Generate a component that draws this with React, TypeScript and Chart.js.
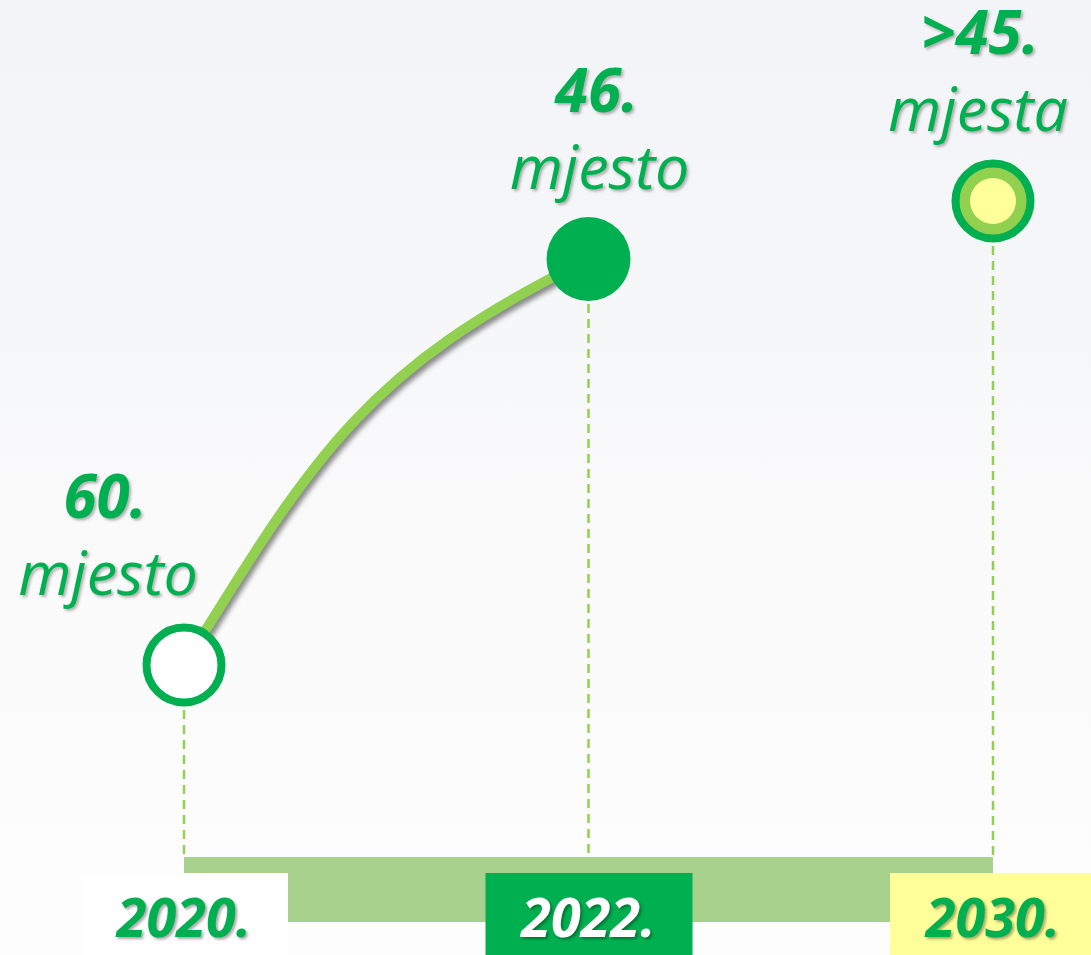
import React, { useEffect, useRef } from 'react';
import { Chart, registerables } from 'chart.js';

Chart.register(...registerables);

// ---- data ----
const years: string[] = ['2020.', '2022.', '2030.'];
const ranks: number[] = [60, 46, 44];
const rankLabels: string[] = ['60.', '46.', '>45.'];
const unitLabels: string[] = ['mjesto', 'mjesto', 'mjesta'];
const targetInner: (number | null)[] = [null, null, 44];

// ---- styles ----
const GREEN = '#00B050';
const LIGHT = '#92D050';
const BAR = '#A9D18E';
const YELLOW = '#FFFF99';
const boxColors = ['#FFFFFF', GREEN, YELLOW];
const yearTextColors = [GREEN, '#FFFFFF', GREEN];
// label offsets relative to each point [dxNumber, dxWord]
const labelDx = [
  [-79, -76],
  [8, 11],
  [-13, -15],
];
const NUM_DY = -147;
const WORD_DY = -70;
const FONT = '"Open Sans", "Noto Sans", sans-serif';

const infographic = {
  id: 'infographic',
  beforeDatasetsDraw(chart: any) {
    const ctx = chart.ctx as CanvasRenderingContext2D;
    const area = chart.chartArea;
    const xs = chart.scales.x;
    const meta = chart.getDatasetMeta(0);
    const pts = meta.data;
    ctx.save();
    // base bar
    const x0 = xs.getPixelForValue(0);
    const x1 = xs.getPixelForValue(years.length - 1);
    ctx.fillStyle = BAR;
    ctx.fillRect(x0, area.bottom, x1 - x0, 65);
    // dashed drop lines
    ctx.strokeStyle = LIGHT;
    ctx.lineWidth = 2.5;
    ctx.setLineDash([9, 6]);
    pts.forEach((p: any) => {
      ctx.beginPath();
      ctx.moveTo(p.x, p.y);
      ctx.lineTo(p.x, area.bottom);
      ctx.stroke();
    });
    ctx.setLineDash([]);
    // curve between first two points
    const a = pts[0];
    const b = pts[1];
    const dx = b.x - a.x;
    const dy = b.y - a.y;
    ctx.shadowColor = 'rgba(0,0,0,0.45)';
    ctx.shadowBlur = 5;
    ctx.shadowOffsetX = 3;
    ctx.shadowOffsetY = 4;
    ctx.strokeStyle = LIGHT;
    ctx.lineWidth = 10;
    ctx.lineCap = 'round';
    ctx.beginPath();
    ctx.moveTo(a.x, a.y);
    ctx.bezierCurveTo(
      a.x + 0.325 * dx, a.y + 0.523 * dy,
      a.x + 0.449 * dx, a.y + 0.729 * dy,
      b.x, b.y
    );
    ctx.stroke();
    ctx.restore();
  },
  afterDraw(chart: any) {
    const ctx = chart.ctx as CanvasRenderingContext2D;
    const area = chart.chartArea;
    const xs = chart.scales.x;
    const pts = chart.getDatasetMeta(0).data;
    ctx.save();
    // year boxes
    years.forEach((label, i) => {
      const cx = xs.getPixelForValue(i);
      ctx.shadowColor = 'transparent';
      ctx.fillStyle = boxColors[i];
      ctx.fillRect(cx - 103, area.bottom + 16, 207, 90);
      ctx.font = `italic bold 54px ${FONT}`;
      ctx.textAlign = 'center';
      ctx.textBaseline = 'alphabetic';
      ctx.shadowColor = 'rgba(0,0,0,0.35)';
      ctx.shadowBlur = 3;
      ctx.shadowOffsetX = 2;
      ctx.shadowOffsetY = 2;
      ctx.fillStyle = yearTextColors[i];
      ctx.fillText(label, cx, area.bottom + 80);
    });
    // point labels
    pts.forEach((p: any, i: number) => {
      ctx.fillStyle = GREEN;
      ctx.textAlign = 'center';
      ctx.shadowColor = 'rgba(0,0,0,0.3)';
      ctx.shadowBlur = 3;
      ctx.shadowOffsetX = 2;
      ctx.shadowOffsetY = 2;
      ctx.font = `italic bold 60px ${FONT}`;
      ctx.fillText(rankLabels[i], p.x + labelDx[i][0], p.y + NUM_DY);
      ctx.font = `italic 61px ${FONT}`;
      ctx.fillText(unitLabels[i], p.x + labelDx[i][1], p.y + WORD_DY);
    });
    ctx.restore();
  },
};

export default function App() {
  const ref = useRef<HTMLCanvasElement | null>(null);
  useEffect(() => {
    if (!ref.current) return;
    const chart = new Chart(ref.current, {
      type: 'line',
      data: {
        labels: years,
        datasets: [
          {
            data: ranks,
            showLine: false,
            clip: false as any,
            order: 2,
            pointRadius: [37.5, 42, 37.5],
            pointHoverRadius: [37.5, 42, 37.5],
            pointBorderWidth: [8, 0, 8],
            pointHoverBorderWidth: [8, 0, 8],
            pointBackgroundColor: ['#FFFFFF', GREEN, LIGHT],
            pointBorderColor: [GREEN, GREEN, GREEN],
          },
          {
            data: targetInner,
            showLine: false,
            clip: false as any,
            order: 1,
            pointRadius: 23,
            pointHoverRadius: 23,
            pointBorderWidth: 0,
            pointBackgroundColor: YELLOW,
            pointBorderColor: YELLOW,
          },
        ],
      },
      options: {
        responsive: false,
        animation: false,
        events: [],
        layout: { autoPadding: false, padding: { left: 184, right: 98, top: 0, bottom: 98 } },
        plugins: { legend: { display: false }, tooltip: { enabled: false } },
        scales: {
          x: { type: 'category', offset: false, display: false },
          y: { type: 'linear', reverse: true, min: 37.07, max: 66.62, display: false },
        },
      },
      plugins: [infographic],
    });
    return () => chart.destroy();
  }, []);
  return (
    <div
      style={{
        position: 'fixed',
        left: 0,
        top: 0,
        width: 1091,
        height: 955,
        background:
          'linear-gradient(to bottom, #f3f4f7 0%, #f5f6f8 25%, #fafafb 55%, #fdfdfd 100%)',
      }}
    >
      <canvas ref={ref} width={1091} height={955} style={{ display: 'block' }} />
    </div>
  );
}
